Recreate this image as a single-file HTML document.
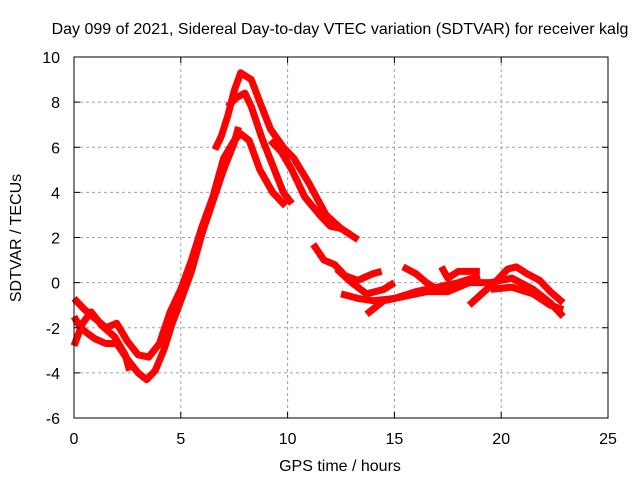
<!DOCTYPE html>
<html><head><meta charset="utf-8"><style>
body{margin:0;background:#fff}
svg{display:block;font-family:"Liberation Sans",sans-serif}
</style></head><body>
<svg id="chart" width="640" height="480" viewBox="0 0 640 480">
<rect width="640" height="480" fill="#fff"/>
<text x="340" y="34" font-size="16" text-anchor="middle">Day 099 of 2021, Sidereal Day-to-day VTEC variation (SDTVAR) for receiver kalg</text>
<text x="340" y="471" font-size="16" text-anchor="middle">GPS time / hours</text>
<text transform="translate(21,238) rotate(-90)" font-size="16" text-anchor="middle">SDTVAR / TECUs</text>
<g id="grid"></g><g id="series"></g>
<rect x="74" y="57" width="534" height="361" fill="none" stroke="#000" stroke-width="1"/>
<g id="ticks"></g>
</svg>
<script>
const xTicks=[0,5,10,15,20,25];
const yTicks=[-6,-4,-2,0,2,4,6,8,10];
const arcA=[[0,-0.7],[0.5,-1.2],[1,-1.6],[1.5,-2.0],[2,-1.8],[2.5,-2.6],[3,-3.2],[3.5,-3.3],[4,-2.7],[4.5,-1.3],[5,-0.3],[5.5,1.0],[6,2.5],[6.5,3.8],[7,5.5],[7.5,6.3],[7.8,6.6],[8.2,6.3],[8.7,5.0],[9.3,4.0],[9.9,3.4]];
const arcB=[[0,-1.5],[0.3,-2.0],[0.7,-2.3],[1,-2.5],[1.5,-2.7],[2,-2.7],[2.5,-3.4],[3,-4.0],[3.4,-4.3],[3.8,-3.9],[4.2,-3.0],[4.6,-1.8],[5,-0.8],[5.5,0.5],[6,2.2],[6.5,3.6],[7,5.0],[7.5,6.2],[7.7,6.9]];
const arcC=[[0,-2.8],[0.4,-1.8],[0.8,-1.3],[1.3,-1.9],[1.9,-2.4],[2.4,-3.2],[2.6,-3.9]];
const arcD=[[6.6,5.9],[6.9,6.5],[7.2,7.4],[7.5,8.5],[7.8,9.3],[8.3,9.0],[8.7,8.0],[9.2,6.8],[9.8,6.0],[10.3,5.5],[11,4.4],[11.8,3.0],[12.5,2.4],[13.3,1.9]];
const arcE=[[7.2,7.8],[7.6,8.2],[8,8.4],[8.3,7.8],[8.8,6.4],[9.3,5.2],[9.8,4.0],[10.2,3.5]];
const arcF=[[9.2,6.3],[9.7,5.8],[10.2,5.0],[10.8,3.8],[11.5,3.0],[12,2.5],[12.5,2.4]];
const arcG=[[11.2,1.7],[11.7,1.0],[12.2,0.8],[12.7,0.3],[13.3,0.1],[14,0.4],[14.4,0.5]];
const arcH=[[12.3,0.6],[13,0.0],[13.7,-0.5],[14.5,-0.3],[15,0.0]];
const arcI=[[12.5,-0.5],[13.3,-0.7],[14,-0.8],[15,-0.7],[16,-0.4],[17,-0.2],[18,0.0],[19,0.3]];
const arcJ=[[13.7,-1.4],[14.5,-0.8],[15.5,-0.6],[16.5,-0.4],[17.5,-0.4],[18.5,0.0],[19.5,0.0],[20.5,0.2],[21.5,-0.3],[22.3,-0.9],[22.9,-1.5]];
const arcK=[[15.4,0.7],[16,0.4],[16.5,0.0],[17,-0.3]];
const arcK2=[[17.2,0.7],[17.5,0.2],[18,0.5],[19,0.5]];
const arcL=[[18.5,-1.0],[19.2,-0.4],[19.8,0.1],[20.3,0.6],[20.7,0.7],[21.2,0.4],[21.8,0.1],[22.3,-0.4],[22.9,-0.9]];
const arcM=[[19.5,-0.3],[20.5,-0.2],[21.5,-0.5],[22.3,-1.0],[22.9,-1.2]];
const seriesList=[arcA,arcB,arcC,arcD,arcE,arcF,arcG,arcH,arcI,arcJ,arcK,arcK2,arcL,arcM];
const NS='http://www.w3.org/2000/svg';
function xs(h){return 74+(h-0)*534/25;}
function ys(v){return 418-(v+6)*361/16;}
const grid=document.getElementById('grid'),ticks=document.getElementById('ticks'),ser=document.getElementById('series');
function mk(tag,attrs,parent){const e=document.createElementNS(NS,tag);for(const k in attrs)e.setAttribute(k,attrs[k]);parent.appendChild(e);return e;}
xTicks.forEach(t=>{const x=xs(t);
 if(t>0&&t<25){const g=mk('line',{x1:x,x2:x,y1:57,y2:418,stroke:'#a0a0a0','stroke-dasharray':'3,3'},grid);}
 mk('line',{x1:x,x2:x,y1:418,y2:412,stroke:'#000'},ticks);mk('line',{x1:x,x2:x,y1:57,y2:63,stroke:'#000'},ticks);
 const l=mk('text',{x:x,y:444,'font-size':16,'text-anchor':'middle'},ticks);l.textContent=t;
 
 });
yTicks.forEach(t=>{const y=ys(t);
 if(t>-6&&t<10){const g=mk('line',{x1:74,x2:608,y1:y,y2:y,stroke:'#a0a0a0','stroke-dasharray':'3,3'},grid);}
 mk('line',{x1:74,x2:80,y1:y,y2:y,stroke:'#000'},ticks);mk('line',{x1:608,x2:602,y1:y,y2:y,stroke:'#000'},ticks);
 const l=mk('text',{x:60,y:y+6,'font-size':16,'text-anchor':'end'},ticks);l.textContent=t;
 
 });
seriesList.forEach((s,i)=>{
 const p=mk('polyline',{points:s.map(d=>xs(d[0])+','+ys(d[1])).join(' '),fill:'none',stroke:'#ff0000','stroke-width':7,'stroke-linejoin':'round','stroke-linecap':'butt'},ser);
 
 
});
</script>
</body></html>
